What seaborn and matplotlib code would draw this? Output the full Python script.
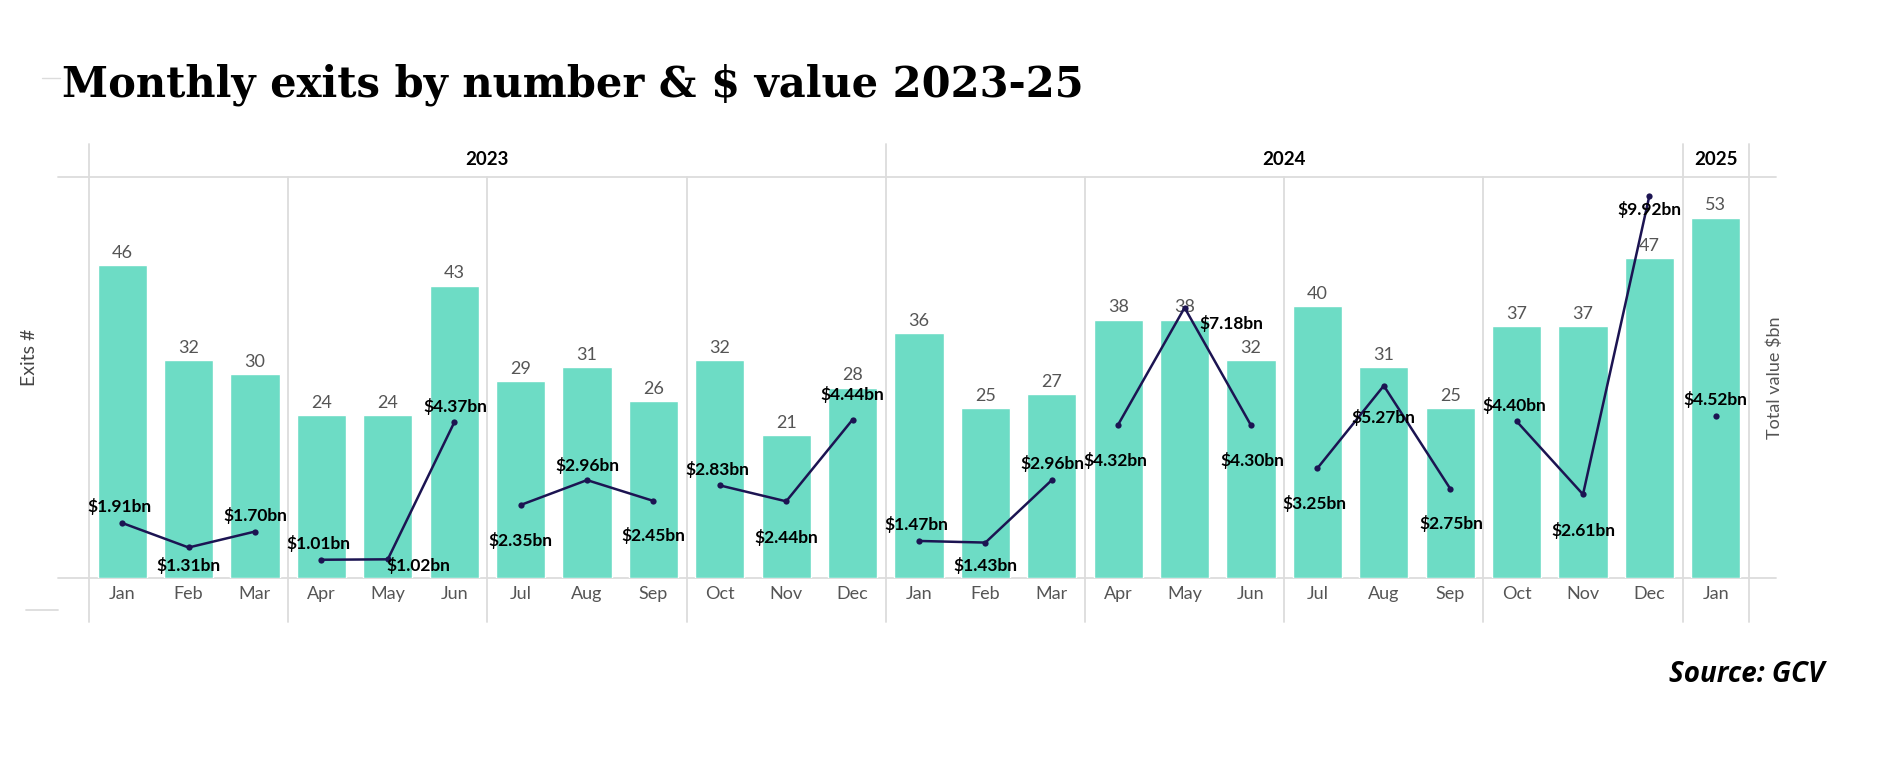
import pandas as pd
import matplotlib.pyplot as plt
import seaborn as sns
from matplotlib.lines import Line2D
from matplotlib import transforms


# --- data ---
months = ['Jan', 'Feb', 'Mar', 'Apr', 'May', 'Jun', 'Jul', 'Aug', 'Sep', 'Oct', 'Nov', 'Dec',
          'Jan', 'Feb', 'Mar', 'Apr', 'May', 'Jun', 'Jul', 'Aug', 'Sep', 'Oct', 'Nov', 'Dec',
          'Jan']
years = [2023] * 12 + [2024] * 12 + [2025]
exits = [46, 32, 30, 24, 24, 43, 29, 31, 26, 32, 21, 28,
         36, 25, 27, 38, 38, 32, 40, 31, 25, 37, 37, 47,
         53]
value_bn = [1.91, 1.31, 1.70, 1.01, 1.02, 4.37, 2.35, 2.96, 2.45, 2.83, 2.44, 4.44,
            1.47, 1.43, 2.96, 4.32, 7.18, 4.30, 3.25, 5.27, 2.75, 4.40, 2.61, 9.92,
            4.52]
year_labels = ['2023', '2024', '2025']

# label nudges in pixels (dx, dy up), placed the way the original tool did it
label_offsets = [(-3, 16), (0, -18), (0, 16), (-3, 16), (31, -6), (1, 16),
                 (0, -35), (0, 15), (0, -35), (-2, 16), (0, -36), (0, 25),
                 (-3, 16), (0, -23), (1, 17), (-3, -36), (47, -16), (1, -35),
                 (-3, -35), (0, -32), (1, -35), (-2, 16), (0, -36), (0, -14),
                 (0, 17)]

df = pd.DataFrame({'month': months, 'year': years, 'exits': exits, 'value': value_bn})
df['pos'] = df.index
df['key'] = df['month'] + ' ' + df['year'].astype(str)
df['quarter'] = df['year'].astype(str) + 'Q' + (df.index % 12 // 3 + 1).astype(str)

BAR = '#6ddcc5'
LINE = '#1c1452'
GRID = '#dcdcdc'
GREY = '#555555'

sns.set_style('white')
plt.rcParams['font.family'] = ['Lato', 'DejaVu Sans']
plt.rcParams['text.parse_math'] = False

DPI = 100
W, H = 1882, 763
fig = plt.figure(figsize=(W / DPI, H / DPI), dpi=DPI)

# axes box in pixels
x0, x1 = 89, 1749
y_top, y_base = 176.7, 578
ax = fig.add_axes([x0 / W, 1 - y_base / H, (x1 - x0) / W, (y_base - y_top) / H])

sns.barplot(data=df, x='key', y='exits', color=BAR, saturation=1, width=0.74, ax=ax, zorder=2)
ax.set_xlim(-0.5, 24.5)
ax.set_ylim(0, 59)
ax.bar_label(ax.containers[0], padding=3, color=GREY, fontsize=13)

ax2 = ax.twinx()
sns.lineplot(data=df, x='pos', y='value', units='quarter', estimator=None, color=LINE,
             linewidth=1.8, marker='o', markersize=4.5, markeredgewidth=0, ax=ax2, legend=False)
ax2.set_xlim(-0.5, 24.5)
ax2.set_ylim(0.563, 10.387)

for i, v in enumerate(value_bn):
    dx, dy = label_offsets[i]
    ax2.annotate(f'${v:.2f}bn', (i, v), xytext=(dx * 0.72, dy * 0.72), textcoords='offset points',
                 ha='center', va='center', fontsize=12.5, fontweight='bold', color='black', zorder=5)

# axes cosmetics
for a in (ax, ax2):
    sns.despine(ax=a, left=True, right=True, top=True, bottom=True)
    a.set_yticks([])
    a.tick_params(length=0)
ax.set_xticks(range(len(months)), months, color=GREY, fontsize=13)
ax.tick_params(axis='x', pad=6)
ax.set_xlabel('')
ax.set_ylabel('Exits #', color='#444444', fontsize=14)
ax.yaxis.set_label_coords(-0.0307, 0.55)
ax2.set_xlabel('')
ax2.set_ylabel('Total value $bn', color=GREY, fontsize=13)
ax2.yaxis.set_label_coords(1.0108, 0.50)

# grid frame like the table layout
h_px = y_base - y_top
gx0 = (58 - x0) / (x1 - x0)
gx1 = (1776 - x0) / (x1 - x0)
for yv in (0, 59):
    ax.axhline(yv, xmin=gx0, xmax=gx1, color=GRID, lw=1.3, clip_on=False, zorder=0)
lo = (y_base - 622) / h_px
hi = (y_base - 144) / h_px
for xv in (-0.5, 11.5, 23.5, 24.5):
    ax.axvline(xv, ymin=lo, ymax=hi, color=GRID, lw=1.3, clip_on=False, zorder=0)
for xv in (2.5, 5.5, 8.5, 14.5, 17.5, 20.5):
    ax.axvline(xv, ymin=lo, ymax=1, color=GRID, lw=1.3, clip_on=False, zorder=0)

# year headers
trans = transforms.blended_transform_factory(ax.transData, ax.transAxes)
year_spans = [(-0.5, 11.5), (11.5, 23.5), (23.5, 24.5)]
for lab, (a, b) in zip(year_labels, year_spans):
    ax.text((a + b) / 2, (y_base - 159) / h_px, lab, transform=trans, ha='center', va='center',
            fontsize=13.5, fontweight='bold', color='black')

# title, fitted to the original width
title = fig.text(62 / W, 1 - 96 / H, 'Monthly exits by number & $ value 2023-25',
                 fontfamily='DejaVu Serif', fontweight='bold', fontsize=36, va='baseline', color='black')
fig.canvas.draw()
wpx = title.get_window_extent().width
title.set_fontsize(36 * 1022 / wpx)

fig.text(1824 / W, 1 - 682 / H, 'Source: GCV', ha='right', va='baseline',
         fontfamily='Open Sans', fontstyle='italic', fontweight='bold', fontsize=20, color='black')

# stray short rules from the source layout
fig.add_artist(Line2D([42 / W, 60 / W], [1 - 78 / H, 1 - 78 / H], color=GRID, lw=1))
fig.add_artist(Line2D([26 / W, 58 / W], [1 - 610 / H, 1 - 610 / H], color=GRID, lw=1.3))

fig.savefig('out.png', dpi=DPI, facecolor='white')
